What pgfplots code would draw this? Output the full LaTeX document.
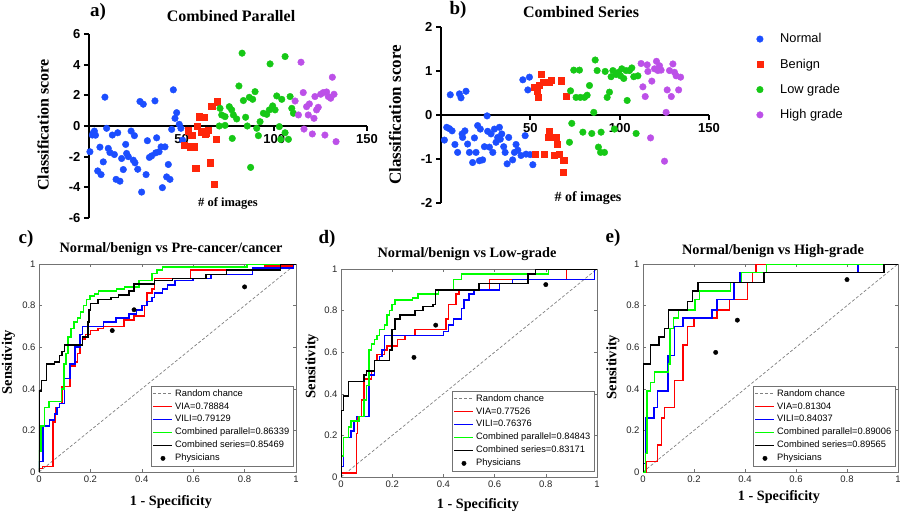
\documentclass[border=0pt]{standalone}
\usepackage{fontspec}
\setmainfont{Liberation Serif}
\newfontfamily\arial{Liberation Sans}
\usepackage{pgfplots}
\pgfplotsset{compat=1.18}
\definecolor{cblue}{RGB}{28,78,255}
\definecolor{cred}{RGB}{255,38,10}
\definecolor{cgreen}{RGB}{22,200,22}
\definecolor{cpurple}{RGB}{188,80,232}
\definecolor{axgray}{RGB}{38,38,38}
\pgfplotsset{
 scat/.style={scale only axis, anchor=south west, clip=false,
   axis x line=middle, axis y line=left,
   axis line style={-, line width=2.3pt, black},
   tick style={line width=1.8pt, black}, major tick length=5pt, tick align=outside,
   hide obscured x ticks=false, hide obscured y ticks=false,
   xmin=0, xmax=150, xtick={50,100,150},
   tick label style={font=\arial\bfseries\fontsize{13}{13}\selectfont},
   /pgf/number format/assume math mode=true},
 roc/.style={scale only axis, anchor=south west, xmin=0, xmax=1, ymin=0, ymax=1,
   xtick={0,0.2,0.4,0.6,0.8,1}, ytick={0,0.2,0.4,0.6,0.8,1},
   tick pos=both, tick align=inside, major tick length=3pt,
   axis line style={black!55, line width=0.6pt},
   tick style={black!55, line width=0.5pt},
   tick label style={font=\arial\fontsize{9.5}{10}\selectfont, text=axgray},
   /pgf/number format/assume math mode=true, /pgf/number format/fixed,
   legend cell align=left,
   legend style={at={(0.988,0.028)}, anchor=south east, draw=black!55,
     font=\arial\fontsize{9.3}{10}\selectfont, inner sep=1.5pt, row sep=0.8pt, text=black},
   legend image code/.code={\draw[mark repeat=2,mark phase=2,##1] plot coordinates {(0pt,0pt)(9.5pt,0pt)(19pt,0pt)};}},
 rl/.style={const plot, line width=1.5pt},
 rnd/.style={gray, dashed, line width=0.7pt, dash pattern=on 3pt off 2pt},
 phys/.style={only marks, mark=*, mark size=2.2pt, black}
}
\begin{document}
\begin{tikzpicture}
\useasboundingbox (0,0) rectangle (900pt,512pt);

% ---------------- panel a ----------------
\begin{axis}[scat, at={(89pt,294pt)}, width=278pt, height=184pt, ymin=-6, ymax=6, ytick={-6,-4,-2,0,2,4,6}]
\addplot[only marks, mark=*, mark size=3.3pt, cblue] coordinates {
(0.5,-1.68)(1.8,-0.59)(2.9,-0.33)(2.3,-0.45)(3.5,-0.6)(8.6,1.88)(9.5,-0.15)(5.9,-1.38)(7.7,-2.34)(4.7,-2.93)(6.5,-3.17)(10.4,-1.46)(11.3,-1.73)(13.7,-1.86)(12.6,-0.59)(15.5,-0.44)(14.6,-3.48)(16.7,-3.6)(17.6,-2.12)(18.5,-2.84)(19.8,-1.2)(20.3,-1.79)(21.2,-2.0)(22.7,-0.33)(24.5,-0.63)(23.9,-2.23)(24.8,-2.4)(26.3,-2.82)(27.5,1.6)(29.3,1.42)(30.8,-3.17)(31.5,-0.96)(28.4,-4.31)(32.6,-2.05)(33.8,-1.95)(35.6,1.64)(36.5,-0.77)(36.0,-1.75)(37.8,-1.68)(38.9,-1.36)(41.0,-1.36)(39.6,-4.02)(41.9,-3.32)(43.7,-3.48)(42.8,-2.51)(45.5,2.36)(46.4,0.5)(47.3,0.87)(44.6,-0.22)(48.7,0.11)(49.6,-0.15)(50.5,-0.92)};
\addplot[only marks, mark=square*, mark size=3.1pt, cred] coordinates {
(51.4,-1.24)(53.6,-0.31)(55.4,-0.59)(54.5,-1.35)(56.7,-1.35)(58.5,0)(59.5,0.61)(62.1,0.57)(60.8,-0.37)(63.1,-0.48)(64.4,-0.26)(66.2,1.31)(69.2,1.59)(68.5,-0.87)(57.6,-2.77)(65.3,-2.4)(67.4,-3.81)(62.5,-0.5)};
\addplot[only marks, mark=*, mark size=3.3pt, cgreen] coordinates {
(70.7,1.15)(71.6,0.72)(73.4,0.61)(70.3,0)(73.4,0.04)(75.7,1.26)(77.0,1.05)(77.9,0.72)(79.7,0.46)(77.3,-0.81)(80.9,2.61)(82.6,4.75)(83.3,1.66)(84.5,0.57)(85.4,0)(86.5,1.87)(88.3,1.74)(89.6,2.24)(90.5,-0.15)(91.4,-0.63)(87.2,-2.7)(92.3,0.28)(94.1,0.83)(95.9,0.76)(97.3,1.05)(97.7,4.05)(99.1,1.31)(100.4,1.05)(101.3,1.96)(102.7,-0.04)(104,1.74)(103.4,-0.87)(105.8,4.53)(105.8,-0.44)(107.6,-0.87)(108.5,1.92)(109.4,1.15)(110.3,0.83)};
\addplot[only marks, mark=*, mark size=3.3pt, cpurple] coordinates {
(111.2,1.63)(113,0.72)(114.4,4.16)(115.6,2.18)(116,-0.2)(117.4,1.26)(118.3,0.72)(118.9,1.44)(120.5,-0.52)(121.9,1.92)(122.8,1.05)(123.7,1.22)(121.4,0.5)(125,2.07)(126.4,2.18)(127.3,-0.59)(128.2,2.22)(129.1,1.92)(130.4,1.81)(131.3,3.18)(132.2,2.07)(133.3,-1.02)};
\end{axis}
\node[font=\bfseries\fontsize{19}{19}\selectfont] at (98pt,500pt) {a)};
\node[font=\bfseries\fontsize{16}{16}\selectfont] at (231pt,495.5pt) {Combined Parallel};
\node[rotate=90, font=\bfseries\fontsize{16}{16}\selectfont] at (43pt,387pt) {Classification score};
\node[font=\bfseries\fontsize{12.5}{12.5}\selectfont] at (228pt,309pt) {\# of images};

% ---------------- panel b ----------------
\begin{axis}[scat, at={(441pt,309pt)}, width=268pt, height=176pt, ymin=-2, ymax=2, ytick={-2,-1,0,1,2},
  legend cell align=left,
  legend image code/.code={\path (0pt,0pt) (24pt,0pt); \draw[mark repeat=2,mark phase=2,#1] plot coordinates {(0pt,0pt)(6pt,0pt)(18pt,0pt)};},
  legend style={at={(1.155,0.986)}, anchor=north west, draw=none, fill=none,
    font=\arial\fontsize{12.8}{13}\selectfont, row sep=10.5pt}]
\addplot[only marks, mark=*, mark size=3.3pt, cblue] coordinates {
(1.9,-0.57)(3.2,-0.28)(4.7,-0.31)(6.2,-0.36)(5.2,0.46)(7.8,-0.67)(9.3,-0.85)(10.3,0.48)(11.2,0.39)(14,0.54)(11.8,-0.43)(12.1,-0.51)(13.4,-0.36)(14.9,-0.66)(15.9,-0.85)(17.7,-1.08)(18.7,-0.52)(19.6,-0.85)(20.5,-0.24)(21.5,-1.04)(22.0,-0.32)(23.3,-1.02)(24.3,-0.72)(25.8,-0.02)(26.1,-0.37)(27.1,-0.73)(28.0,-0.43)(29,-0.85)(29.9,-0.32)(30.8,-0.62)(31.7,-0.51)(32.7,-0.28)(33.2,-0.55)(34,-0.43)(35.1,-0.72)(35.9,-0.85)(37,-1.11)(37.9,-0.51)(40.1,-1.02)(41.1,-0.85)(42,-0.67)(43,-0.8)(44.8,-0.92)(45.8,0.8)(47.1,-0.47)(48.6,0.57)(49.5,0.86)(47.6,-0.89)(49.9,-0.9)(51.4,-1.13)};
\addlegendentry{Normal}
\addplot[only marks, mark=square*, mark size=3.1pt, cred] coordinates {
(52.3,0.64)(53.8,0.55)(54.5,0.40)(56,0.92)(55.1,0.67)(57.5,0.74)(60.7,0.74)(61.6,0.80)(67.2,0.78)(70,0.42)(52.7,-0.9)(57.9,-0.9)(59.8,-0.51)(60.7,-0.36)(61.6,-0.51)(63.5,-0.92)(64.4,-0.51)(65,-0.66)(66.3,-0.9)(68.7,-1.02)(68.2,-1.30)};
\addlegendentry{Benign}
\addplot[only marks, mark=*, mark size=3.3pt, cgreen] coordinates {
(72.5,0.55)(73.2,-0.19)(71.9,-0.62)(74.3,1.02)(77.5,1.02)(75.6,0.40)(78.0,0.40)(79.4,-0.39)(80.3,0.40)(81.8,0.45)(83.1,0.67)(84.4,-0.42)(85.5,0.06)(86.3,1.25)(87.4,1.01)(88.1,-0.73)(89.3,-0.85)(89.6,-0.39)(91.5,-0.85)(91.9,0.99)(93,0.40)(94.3,0.52)(95.2,0.87)(96.2,1.01)(97.1,-0.32)(98,0.92)(99.3,0.97)(100.5,0.89)(101.2,1.05)(102.3,0.83)(103.6,1.01)(104.2,0.33)(105.5,1.01)(106.8,1.07)(107.9,0.87)(109.2,-0.42)(110.2,0.89)};
\addlegendentry{Low grade}
\addplot[only marks, mark=*, mark size=3.3pt, cpurple] coordinates {
(112,1.17)(113,0.64)(114.3,0.42)(115.4,1.14)(115.8,0.99)(117.3,-0.52)(118,0.77)(119.5,1.05)(120.6,1.22)(121.4,1.01)(122.3,1.12)(123.2,1.02)(125.1,-1.05)(126,0.06)(126.6,0.57)(127.9,1.01)(128.9,0.42)(129.8,1.16)(130.7,0.97)(131.6,0.89)(133,0.57)(134.1,0.86)};
\addlegendentry{High grade}
\end{axis}
\node[font=\bfseries\fontsize{19}{19}\selectfont] at (458pt,502pt) {b)};
\node[font=\bfseries\fontsize{16}{16}\selectfont] at (581pt,499.5pt) {Combined Series};
\node[rotate=90, font=\bfseries\fontsize{17}{17}\selectfont] at (395pt,397pt) {Classification score};
\node[font=\bfseries\fontsize{14}{14}\selectfont] at (588pt,314pt) {\# of images};

% ---------------- panel c ----------------
\begin{axis}[roc, at={(39pt,40pt)}, width=257pt, height=208pt]
\addplot[rnd] coordinates {(0,0)(1,1)}; \addlegendentry{Random chance}
\addplot[rl, red] coordinates {(0,0)(0,0.016)(0.013,0.027)(0.055,0.24)(0.065,0.31)(0.08,0.33)(0.09,0.41)(0.12,0.51)(0.14,0.53)(0.15,0.57)(0.16,0.61)(0.17,0.64)(0.18,0.66)(0.2,0.68)(0.23,0.69)(0.25,0.70)(0.33,0.73)(0.37,0.75)(0.41,0.80)(0.42,0.86)(0.44,0.88)(0.45,0.93)(0.59,0.97)(0.88,0.99)(0.99,1)(1,1)}; \addlegendentry{VIA=0.78884}
\addplot[rl, blue] coordinates {(0,0)(0,0.05)(0.015,0.22)(0.04,0.25)(0.06,0.28)(0.07,0.31)(0.08,0.33)(0.1,0.45)(0.12,0.52)(0.14,0.60)(0.16,0.66)(0.17,0.70)(0.25,0.72)(0.3,0.74)(0.35,0.76)(0.38,0.78)(0.4,0.80)(0.42,0.82)(0.44,0.84)(0.45,0.86)(0.48,0.88)(0.5,0.90)(0.53,0.92)(0.6,0.93)(0.67,0.95)(0.83,0.98)(0.99,1)(1,1)}; \addlegendentry{VILI=0.79129}
\addplot[rl, green] coordinates {(0,0)(0,0.10)(0.008,0.22)(0.021,0.31)(0.039,0.34)(0.088,0.40)(0.097,0.52)(0.105,0.57)(0.112,0.65)(0.125,0.69)(0.137,0.72)(0.15,0.74)(0.162,0.77)(0.173,0.80)(0.185,0.83)(0.198,0.845)(0.215,0.855)(0.231,0.87)(0.302,0.88)(0.332,0.89)(0.39,0.92)(0.44,0.955)(0.46,0.97)(0.48,0.985)(0.81,1)(1,1)}; \addlegendentry{Combined parallel=0.86339}
\addplot[rl, black] coordinates {(0,0)(0,0.39)(0.01,0.44)(0.03,0.52)(0.06,0.53)(0.08,0.56)(0.09,0.58)(0.1,0.61)(0.17,0.65)(0.19,0.72)(0.195,0.78)(0.2,0.81)(0.23,0.83)(0.28,0.84)(0.31,0.85)(0.35,0.87)(0.37,0.905)(0.45,0.92)(0.52,0.93)(0.65,0.95)(0.73,0.97)(0.94,1)(1,1)}; \addlegendentry{Combined series=0.85469}
\addplot[phys] coordinates {(0.285,0.68)(0.37,0.78)(0.8,0.89)}; \addlegendentry{Physicians}
\end{axis}
\node[font=\bfseries\fontsize{19}{19}\selectfont] at (26pt,273pt) {c)};
\node[font=\bfseries\fontsize{14.3}{14.3}\selectfont] at (171pt,263pt) {Normal/benign vs Pre-cancer/cancer};
\node[font=\bfseries\fontsize{14.2}{14.2}\selectfont] at (171pt,10pt) {1 - Specificity};
\node[rotate=90, font=\bfseries\fontsize{14.5}{14.5}\selectfont] at (8.5pt,150pt) {Sensitivity};

% ---------------- panel d ----------------
\begin{axis}[roc, at={(341pt,35pt)}, width=256pt, height=208pt]
\addplot[rnd] coordinates {(0,0)(1,1)}; \addlegendentry{Random chance}
\addplot[rl, red] coordinates {(0,0)(0,0.02)(0.06,0.21)(0.065,0.29)(0.08,0.37)(0.09,0.47)(0.12,0.51)(0.13,0.56)(0.14,0.59)(0.17,0.61)(0.18,0.63)(0.22,0.66)(0.25,0.68)(0.29,0.71)(0.41,0.76)(0.42,0.83)(0.45,0.88)(0.46,0.9)(0.58,0.95)(0.88,1)(1,1)}; \addlegendentry{VIA=0.77526}
\addplot[rl, blue] coordinates {(0,0)(0,0.05)(0.01,0.19)(0.04,0.22)(0.05,0.27)(0.06,0.29)(0.11,0.49)(0.13,0.56)(0.15,0.58)(0.16,0.61)(0.17,0.68)(0.4,0.70)(0.42,0.73)(0.44,0.76)(0.47,0.81)(0.48,0.85)(0.5,0.88)(0.52,0.9)(0.62,0.93)(0.67,0.95)(0.99,1)(1,1)}; \addlegendentry{VILI=0.76376}
\addplot[rl, green] coordinates {(0,0)(0,0.1)(0.01,0.19)(0.03,0.24)(0.04,0.27)(0.07,0.29)(0.09,0.37)(0.1,0.44)(0.11,0.61)(0.12,0.64)(0.13,0.66)(0.14,0.68)(0.15,0.71)(0.17,0.73)(0.18,0.78)(0.19,0.80)(0.2,0.83)(0.21,0.85)(0.28,0.86)(0.3,0.88)(0.38,0.90)(0.44,0.95)(0.47,0.975)(0.81,1)(1,1)}; \addlegendentry{Combined parallel=0.84843}
\addplot[rl, black] coordinates {(0,0)(0,0.32)(0.01,0.39)(0.03,0.46)(0.09,0.49)(0.1,0.51)(0.13,0.56)(0.19,0.61)(0.2,0.71)(0.21,0.76)(0.23,0.78)(0.29,0.80)(0.32,0.82)(0.36,0.83)(0.37,0.90)(0.54,0.93)(0.73,0.975)(0.76,1)(1,1)}; \addlegendentry{Combined series=0.83171}
\addplot[phys] coordinates {(0.285,0.575)(0.37,0.73)(0.8,0.925)}; \addlegendentry{Physicians}
\end{axis}
\node[font=\bfseries\fontsize{19}{19}\selectfont] at (327pt,273pt) {d)};
\node[font=\bfseries\fontsize{14.3}{14.3}\selectfont] at (467pt,258pt) {Normal/benign vs Low-grade};
\node[font=\bfseries\fontsize{14.2}{14.2}\selectfont] at (478pt,7pt) {1 - Specificity};
\node[rotate=90, font=\bfseries\fontsize{14.5}{14.5}\selectfont] at (312pt,146pt) {Sensitivity};

% ---------------- panel e ----------------
\begin{axis}[roc, at={(643pt,40pt)}, width=255pt, height=208pt]
\addplot[rnd] coordinates {(0,0)(1,1)}; \addlegendentry{Random chance}
\addplot[rl, red] coordinates {(0,0)(0.013,0.05)(0.056,0.13)(0.072,0.26)(0.085,0.31)(0.124,0.44)(0.157,0.61)(0.174,0.70)(0.2,0.74)(0.29,0.78)(0.34,0.83)(0.41,0.91)(0.43,0.96)(0.444,1)(1,1)}; \addlegendentry{VIA=0.81304}
\addplot[rl, blue] coordinates {(0,0)(0,0.04)(0.009,0.26)(0.043,0.31)(0.056,0.39)(0.098,0.56)(0.124,0.70)(0.157,0.74)(0.27,0.78)(0.29,0.83)(0.357,0.91)(0.38,0.96)(0.843,1)(1,1)}; \addlegendentry{VILI=0.84037}
\addplot[rl, green] coordinates {(0,0)(0.01,0.09)(0.015,0.39)(0.03,0.43)(0.045,0.48)(0.1,0.52)(0.105,0.69)(0.12,0.74)(0.14,0.78)(0.203,0.83)(0.222,0.87)(0.344,0.91)(0.386,0.96)(0.484,1)(1,1)}; \addlegendentry{Combined parallel=0.89006}
\addplot[rl, black] coordinates {(0,0)(0,0.52)(0.03,0.61)(0.062,0.65)(0.085,0.69)(0.10,0.78)(0.174,0.82)(0.195,0.87)(0.216,0.91)(0.475,0.96)(0.945,1)(1,1)}; \addlegendentry{Combined series=0.89565}
\addplot[phys] coordinates {(0.285,0.575)(0.37,0.73)(0.8,0.925)}; \addlegendentry{Physicians}
\end{axis}
\node[font=\bfseries\fontsize{19}{19}\selectfont] at (613pt,274pt) {e)};
\node[font=\bfseries\fontsize{14.3}{14.3}\selectfont] at (773pt,261pt) {Normal/benign vs High-grade};
\node[font=\bfseries\fontsize{14.2}{14.2}\selectfont] at (779pt,15pt) {1 - Specificity};
\node[rotate=90, font=\bfseries\fontsize{14.5}{14.5}\selectfont] at (613pt,145pt) {Sensitivity};
\end{tikzpicture}
\end{document}
